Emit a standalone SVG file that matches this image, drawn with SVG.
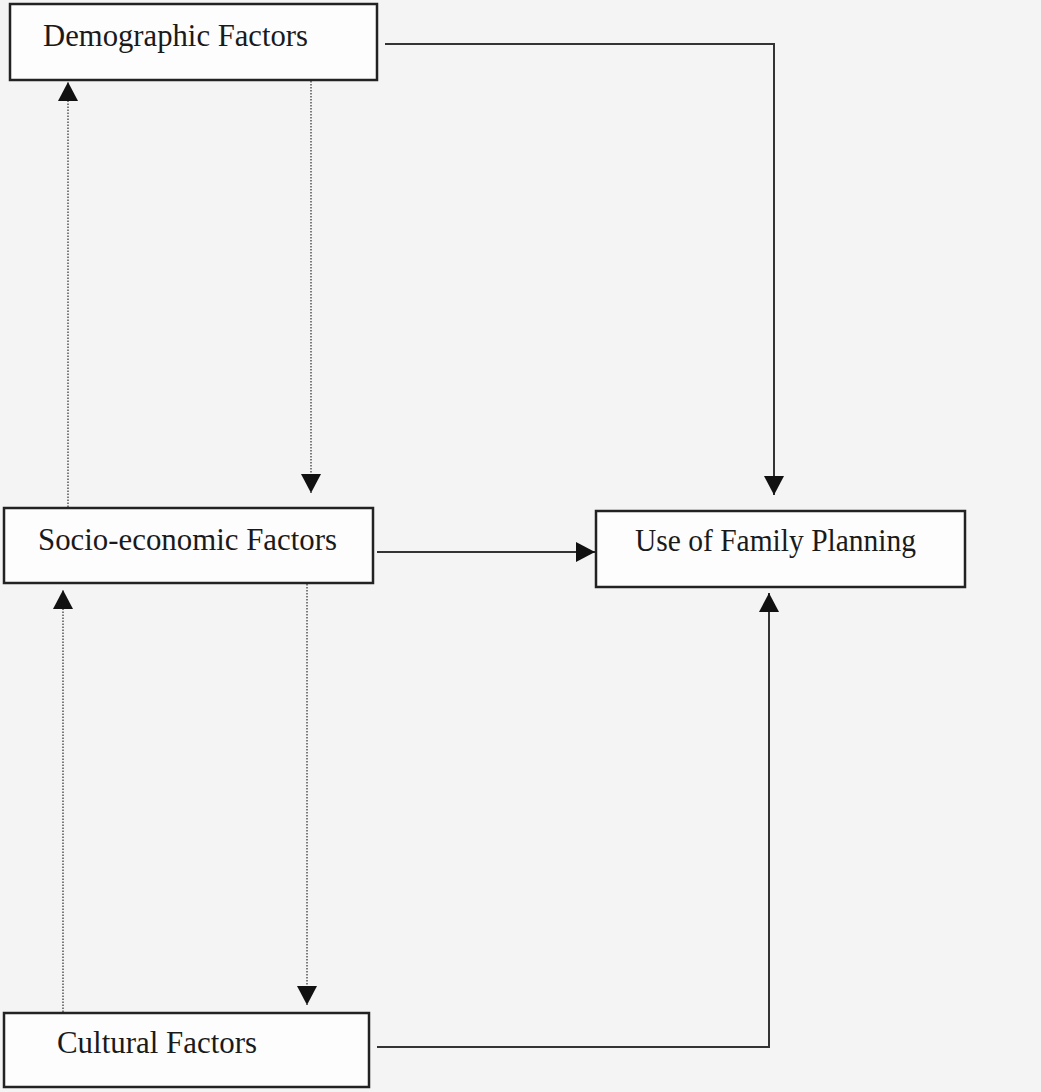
<svg xmlns="http://www.w3.org/2000/svg" width="1041" height="1092" viewBox="0 0 1041 1092">
  <defs>
    <style>
      .box { fill: #fdfdfd; stroke: #222; stroke-width: 2.5; }
      .lbl { font-family: "Liberation Serif", "Times New Roman", serif; font-size: 32px; fill: #1a1a1a; }
      .solid { fill: none; stroke: #333; stroke-width: 2; }
      .dot { fill: none; stroke: #666; stroke-width: 1.7; stroke-dasharray: 1.5 1.5; }
    </style>
    <marker id="ah" viewBox="0 0 19 20" refX="19" refY="10" markerWidth="19" markerHeight="20" markerUnits="userSpaceOnUse" orient="auto">
      <path d="M0,0 L19,10 L0,20 z" fill="#111"/>
    </marker>
  </defs>
  <rect width="1041" height="1092" fill="#f4f4f4"/>

  <g id="connectors">
    <path class="solid" d="M385,44 H774 V495" marker-end="url(#ah)"/>
    <path class="solid" d="M377,552 H595" marker-end="url(#ah)"/>
    <path class="solid" d="M377,1047 H769 V593" marker-end="url(#ah)"/>
    <path class="dot" d="M311,81 V493" marker-end="url(#ah)"/>
    <path class="dot" d="M307,584 V1005" marker-end="url(#ah)"/>
    <path class="dot" d="M63,1012 V590" marker-end="url(#ah)"/>
    <path class="dot" d="M68,507 V82" marker-end="url(#ah)"/>
  </g>

  <g id="demographic">
    <rect class="box" x="10" y="4" width="367" height="76"/>
    <text class="lbl" x="43" y="46" textLength="265" lengthAdjust="spacingAndGlyphs">Demographic Factors</text>
  </g>

  <g id="socioeconomic">
    <rect class="box" x="4" y="508" width="369" height="75"/>
    <text class="lbl" x="38" y="550" textLength="299" lengthAdjust="spacingAndGlyphs">Socio-economic Factors</text>
  </g>

  <g id="use-fp">
    <rect class="box" x="596" y="511" width="369" height="76"/>
    <text class="lbl" x="635" y="551" textLength="281" lengthAdjust="spacingAndGlyphs">Use of Family Planning</text>
  </g>

  <g id="cultural">
    <rect class="box" x="4" y="1013" width="365" height="74"/>
    <text class="lbl" x="57" y="1053" textLength="200" lengthAdjust="spacingAndGlyphs">Cultural Factors</text>
  </g>
</svg>
